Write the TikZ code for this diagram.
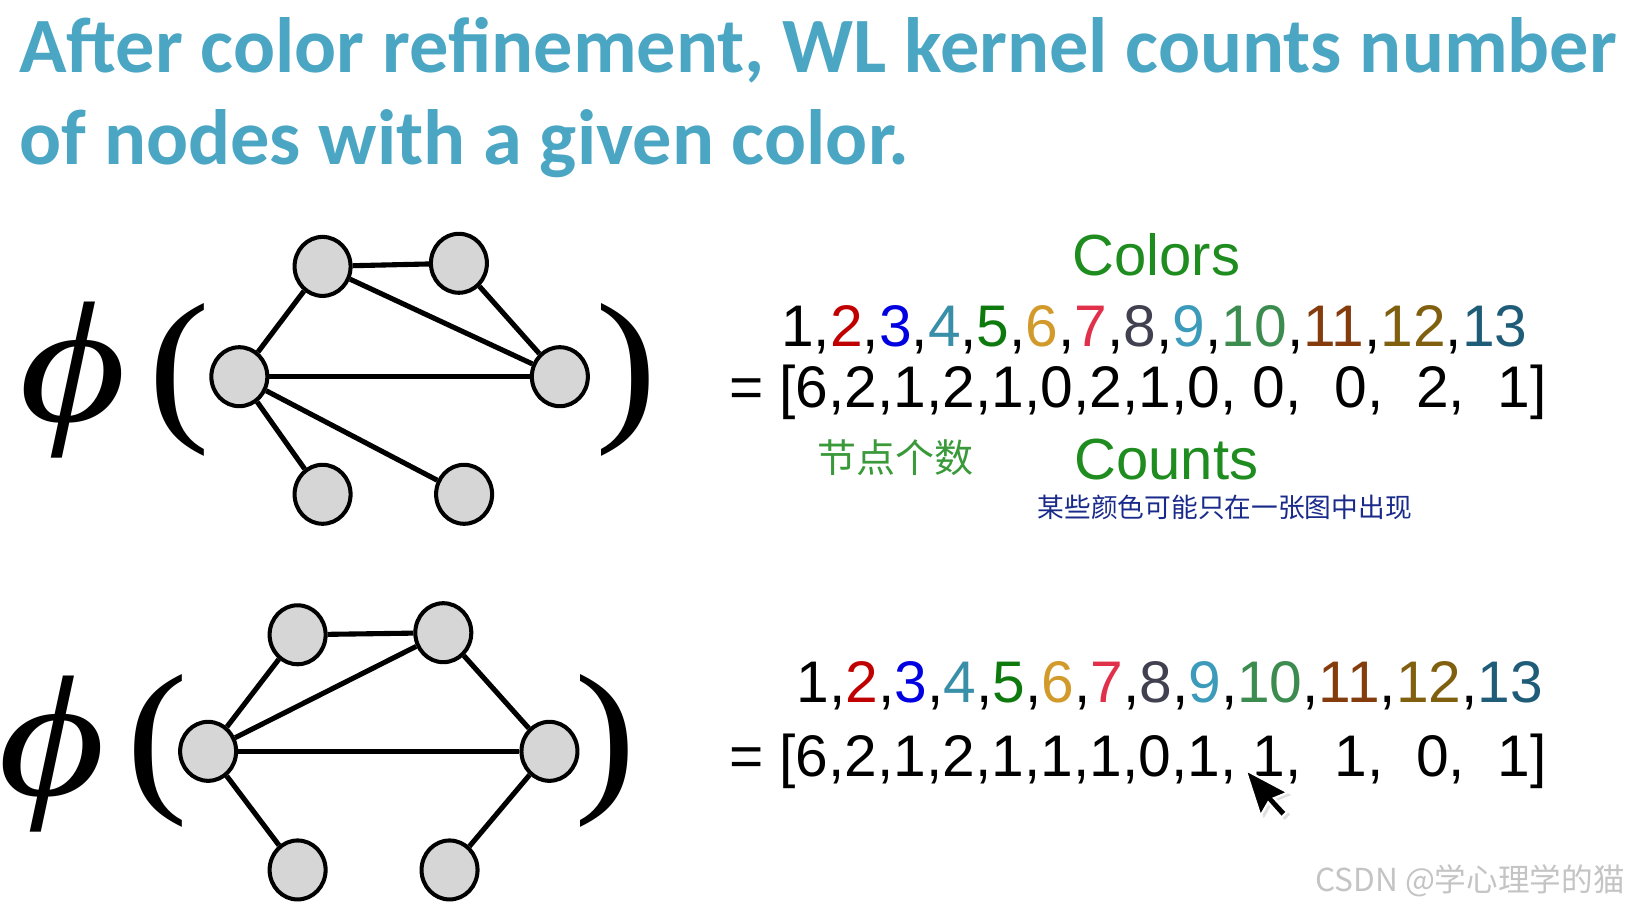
\documentclass[tikz,border=0pt]{standalone}
\usepackage{fontspec}
\usetikzlibrary{shapes.geometric}
\newfontfamily\titlefont{Carlito}
\newfontfamily\arial{Liberation Sans}
\newfontfamily\timesfont{Liberation Serif}
\newfontfamily\cjk{Noto Sans CJK SC}
\definecolor{titleblue}{HTML}{4BA6C4}
\definecolor{labgreen}{HTML}{1E8C1E}
\definecolor{handgreen}{HTML}{3A9A3A}
\definecolor{handblue}{HTML}{1A2A8A}
\definecolor{nodegray}{HTML}{D6D6D6}
\definecolor{wmgray}{HTML}{C4C4C4}
\definecolor{cB}{HTML}{C00000}
\definecolor{cC}{HTML}{0000E0}
\definecolor{cD}{HTML}{3A8FA8}
\definecolor{cE}{HTML}{0E7A0E}
\definecolor{cF}{HTML}{D19A2A}
\definecolor{cG}{HTML}{E0304A}
\definecolor{cH}{HTML}{404050}
\definecolor{cI}{HTML}{3C9ABA}
\definecolor{cJ}{HTML}{3C8C50}
\definecolor{cK}{HTML}{843C0C}
\definecolor{cL}{HTML}{80600F}
\definecolor{cM}{HTML}{1F5C78}
\newcommand{\colorrow}{1,\textcolor{cB}{2},\textcolor{cC}{3},\textcolor{cD}{4},\textcolor{cE}{5},\textcolor{cF}{6},\textcolor{cG}{7},\textcolor{cH}{8},\textcolor{cI}{9},\textcolor{cJ}{10},\textcolor{cK}{11},\textcolor{cL}{12},\textcolor{cM}{13}}
\tikzset{
  gnode/.style={ellipse, draw=black, line width=1.15pt, fill=nodegray, minimum width=0.56cm, minimum height=0.59cm, inner sep=0pt},
  gedge/.style={line width=1.45pt},
  titletext/.style={anchor=base west, inner sep=0pt, text=titleblue, font=\titlefont\bfseries\fontsize{22.3}{22.3}\selectfont},
  numtext/.style={anchor=base west, inner sep=0pt, font=\arial\fontsize{16.7}{16.7}\selectfont},
  labtext/.style={anchor=base west, inner sep=0pt, text=labgreen, font=\arial\fontsize{16.5}{16.5}\selectfont},
  phitext/.style={inner sep=0pt, xscale=1.2, font=\timesfont\itshape\fontsize{49}{49}\selectfont},
  parentext/.style={inner sep=0pt, xscale=1.1, font=\timesfont\fontsize{48}{48}\selectfont},
}
\begin{document}
\begin{tikzpicture}[x=0.010406cm, y=-0.010406cm]
\useasboundingbox (0,0) rectangle (1568.3,873.5);
% title
\node[titletext] (t1) at (18,70) {After color refinement, WL kernel counts number};
\node[titletext] (t2) at (18,158) {of nodes with a given color.};

% graph 1
\node[phitext] (phiA) at (70,365) {ϕ};
\node[parentext] (lpA) at (172,365) {(};
\node[parentext] (rpA) at (602,365) {)};
\node[gnode] (a1) at (310,256) {};
\node[gnode] (a2) at (441,253) {};
\node[gnode] (a3) at (230,362) {};
\node[gnode] (a4) at (538,362) {};
\node[gnode] (a5) at (310,475) {};
\node[gnode] (a6) at (446,475) {};
\draw[gedge] (a1) -- (a2);
\draw[gedge] (a1) -- (a3);
\draw[gedge] (a1) -- (a4);
\draw[gedge] (a2) -- (a4);
\draw[gedge] (a3) -- (a4);
\draw[gedge] (a3) -- (a5);
\draw[gedge] (a3) -- (a6);

% graph 2
\node[phitext] (phiB) at (50,725) {ϕ};
\node[parentext] (lpB) at (151,722) {(};
\node[parentext] (rpB) at (582,722) {)};
\node[gnode] (b1) at (286,610) {};
\node[gnode] (b2) at (426,608) {};
\node[gnode] (b3) at (200,722) {};
\node[gnode] (b4) at (528,722) {};
\node[gnode] (b5) at (286,836) {};
\node[gnode] (b6) at (432,836) {};
\draw[gedge] (b1) -- (b2);
\draw[gedge] (b1) -- (b3);
\draw[gedge] (b3) -- (b2);
\draw[gedge] (b2) -- (b4);
\draw[gedge] (b3) -- (b4);
\draw[gedge] (b3) -- (b5);
\draw[gedge] (b4) -- (b6);

% labels and vectors, row 1
\node[labtext] (colors) at (1030,265) {Colors};
\node[numtext] (colA) at (750,333) {\colorrow};
\node[numtext] (vecA) at (700,392) {= [6,2,1,2,1,0,2,1,0,\ 0,\ \ 0,\ \ 2,\ \ 1]};
\node[anchor=center, inner sep=0pt, text=handgreen, font=\cjk\fontsize{11.1}{11.1}\selectfont] (hand1) at (861,440) {节点个数};
\node[labtext] (counts) at (1032,461) {Counts};
\node[anchor=center, inner sep=0pt, text=handblue, font=\cjk\fontsize{7.6}{7.6}\selectfont] (hand2) at (1177,488) {某些颜色可能只在一张图中出现};

% row 2
\node[numtext] (colB) at (765,675) {\colorrow};
\node[numtext] (vecB) at (700,746) {= [6,2,1,2,1,1,1,0,1,\ 1,\ \ 1,\ \ 0,\ \ 1]};

% cursor
\begin{scope}[shift={(1197,740)}, rotate=18, scale=1.1]
\fill[black!25, opacity=0.5, shift={(2,3)}] (0,0) -- (0,42) -- (10,33) -- (17,49) -- (23,46) -- (16,31) -- (29,30) -- cycle;
\filldraw[fill=black, draw=white, line width=0.6pt] (0,0) -- (0,42) -- (10,33) -- (17,49) -- (23,46) -- (16,31) -- (29,30) -- cycle;
\end{scope}

% watermark
\node[anchor=east, inner sep=0pt, text=wmgray, font=\cjk\fontsize{9}{9}\selectfont] (wm) at (1562,846) {CSDN @学心理学的猫};
\end{tikzpicture}
\end{document}
